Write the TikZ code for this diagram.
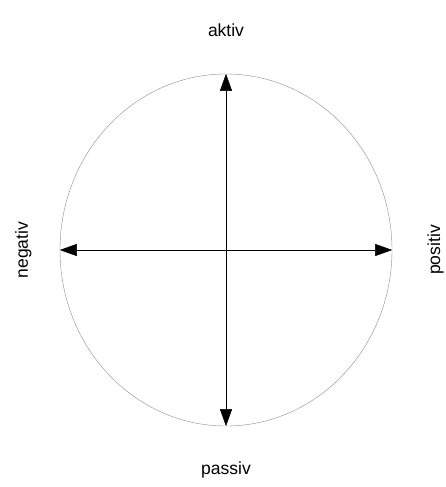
\documentclass[tikz,border=0pt]{standalone}
\usepackage{fontspec}
\setmainfont{Liberation Sans}
\usetikzlibrary{shapes.geometric,arrows.meta}

\begin{document}
\begin{tikzpicture}[x=1pt, y=1pt,
	axis/.style={thin, black, {Triangle[length=17pt,width=12pt]}-{Triangle[length=17pt,width=12pt]}},
	lab/.style={anchor=base, font=\fontsize{17.5}{20}\selectfont}]
	\useasboundingbox (-226,-237) rectangle (220,250);
	\node[ellipse, draw=gray!85!blue!80, thin, minimum width=332pt, minimum height=352pt, inner sep=0pt] (kreis) at (0,0) {};
	\draw[axis] (kreis.south) -- (kreis.north);
	\draw[axis] (kreis.west) -- (kreis.east);
	\node[lab] (aktiv) at (0,213) {aktiv};
	\node[lab] (passiv) at (0,-224) {passiv};
	\node[lab, rotate=90] (negativ) at (-198,0) {negativ};
	\node[lab, rotate=90] (positiv) at (214,0) {positiv};
\end{tikzpicture}
\end{document}
